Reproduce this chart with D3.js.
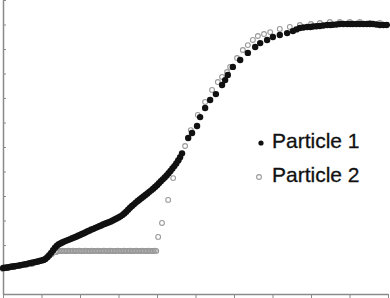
<!DOCTYPE html>
<html>
<head>
<meta charset="utf-8">
<script src="https://cdn.jsdelivr.net/npm/d3@7"></script>
<style>
  body { margin: 0; background: #fff; }
  svg { display: block; }
  .axis path, .axis line { stroke: #8a8a8a; }
  .legend text { font-family: "Liberation Sans", Arial, sans-serif; font-size: 21px; fill: #111; stroke: #111; stroke-width: 0.3px; }
</style>
</head>
<body>
<div id="chart"></div>
<script>
// Particle 1 (filled black dots)
var p1x = [0.00, 0.05, 0.10, 0.15, 0.20, 0.25, 0.30, 0.35, 0.40, 0.45,
           0.50, 0.55, 0.60, 0.65, 0.70, 0.75, 0.80, 0.85, 0.90, 0.95,
           1.00, 1.05, 1.10, 1.15, 1.20, 1.25, 1.30, 1.35, 1.40, 1.45,
           1.50, 1.55, 1.60, 1.65, 1.70, 1.75, 1.80, 1.85, 1.90, 1.95,
           2.00, 2.05, 2.10, 2.15, 2.20, 2.25, 2.30, 2.35, 2.40, 2.45,
           2.50, 2.55, 2.60, 2.65, 2.70, 2.75, 2.80, 2.85, 2.90, 2.95,
           3.00, 3.05, 3.10, 3.15, 3.20, 3.25, 3.30, 3.35, 3.40, 3.45,
           3.50, 3.55, 3.60, 3.65, 3.70, 3.75, 3.80, 3.85, 3.90, 3.95,
           4.00, 4.05, 4.10, 4.15, 4.20, 4.25, 4.30, 4.35, 4.40, 4.45,
           4.50, 4.55, 4.60, 4.65,
           4.81, 4.91, 5.04, 5.12, 5.25, 5.38, 5.53, 5.69, 5.77, 5.84,
           5.97, 6.16, 6.36, 6.55, 6.68, 6.86, 7.01, 7.19, 7.38,
           7.53, 7.62, 7.71, 7.80, 7.90, 7.98, 8.05, 8.14, 8.23, 8.32,
           8.42, 8.50, 8.57, 8.66, 8.75, 8.84, 8.94, 9.02, 9.09, 9.18,
           9.27, 9.36, 9.45, 9.53, 9.61, 9.70, 9.79, 9.88, 9.97];
var p1y = [1.06, 1.07, 1.08, 1.09, 1.11, 1.12, 1.13, 1.15, 1.16, 1.18,
           1.19, 1.21, 1.22, 1.24, 1.26, 1.28, 1.29, 1.31, 1.33, 1.35,
           1.37, 1.39, 1.43, 1.50, 1.58, 1.68, 1.79, 1.89, 1.97, 2.03,
           2.07, 2.11, 2.15, 2.18, 2.21, 2.24, 2.28, 2.31, 2.34, 2.38,
           2.41, 2.45, 2.48, 2.52, 2.56, 2.59, 2.63, 2.66, 2.70, 2.73,
           2.77, 2.80, 2.84, 2.87, 2.90, 2.93, 2.96, 3.00, 3.04, 3.08,
           3.12, 3.17, 3.22, 3.29, 3.36, 3.44, 3.52, 3.59, 3.66, 3.73,
           3.80, 3.86, 3.92, 3.98, 4.04, 4.10, 4.17, 4.23, 4.30, 4.37,
           4.44, 4.52, 4.60, 4.68, 4.76, 4.84, 4.93, 5.02, 5.12, 5.22,
           5.33, 5.45, 5.58, 5.74,
           6.37, 6.57, 6.86, 7.22, 7.59, 7.92, 8.16, 8.53, 8.73, 8.94,
           9.27, 9.55, 9.84, 10.08, 10.24, 10.37, 10.49, 10.57, 10.65,
           10.73, 10.80, 10.86, 10.88, 10.90, 10.90, 10.92, 10.93, 10.94, 10.96,
           10.98, 10.98, 10.99, 11.00, 11.02, 11.02, 11.02, 11.02, 11.02, 11.02,
           11.02, 11.02, 11.02, 11.02, 11.02, 11.00, 10.98, 10.98, 10.98];

// Particle 2 (open grey circles)
var p2x = [0.00, 0.13, 0.29, 0.44, 0.60, 0.75, 0.91, 1.06, 1.17, 1.27,
           1.38, 1.42, 1.46, 1.50, 1.54, 1.58, 1.62, 1.66, 1.70, 1.74,
           1.78, 1.82, 1.86, 1.90, 1.94, 1.98, 2.02, 2.06, 2.10, 2.14,
           2.18, 2.22, 2.26, 2.30, 2.34, 2.38, 2.42, 2.46, 2.50, 2.54,
           2.58, 2.62, 2.66, 2.70, 2.74, 2.78, 2.82, 2.86, 2.90, 2.94,
           2.98, 3.02, 3.06, 3.10, 3.14, 3.18, 3.22, 3.26, 3.30, 3.34,
           3.38, 3.42, 3.46, 3.50, 3.54, 3.58, 3.62, 3.66, 3.70, 3.74,
           3.78, 3.82, 3.86, 3.90, 3.94, 3.98,
           4.03, 4.13, 4.29, 4.42, 4.57, 4.73, 4.88,
           5.06, 5.25, 5.43, 5.58, 5.69, 5.82, 5.90, 6.08, 6.23, 6.36,
           6.49, 6.62, 6.78, 6.94, 7.19, 7.45, 7.71, 8.00, 8.23, 8.49,
           8.75, 9.01, 9.27, 9.53, 9.79];
var p2y = [1.02, 1.06, 1.10, 1.14, 1.18, 1.22, 1.31, 1.39, 1.51, 1.63,
           1.71, 1.74, 1.76, 1.75, 1.77, 1.76, 1.76, 1.75, 1.77, 1.76,
           1.76, 1.77, 1.75, 1.76, 1.76, 1.77, 1.76, 1.75, 1.76, 1.77,
           1.76, 1.76, 1.75, 1.77, 1.76, 1.76, 1.76, 1.77, 1.75, 1.76,
           1.76, 1.77, 1.76, 1.76, 1.75, 1.77, 1.76, 1.76, 1.75, 1.76,
           1.77, 1.76, 1.76, 1.75, 1.77, 1.76, 1.76, 1.76, 1.77, 1.75,
           1.76, 1.76, 1.77, 1.76, 1.75, 1.76, 1.77, 1.76, 1.76, 1.75,
           1.77, 1.76, 1.76, 1.76, 1.77, 1.76,
           2.33, 2.90, 3.84, 4.73, 5.47, 6.04, 6.69,
           7.31, 7.84, 8.33, 8.65, 8.86, 9.06, 9.27, 9.63, 9.96, 10.16,
           10.37, 10.53, 10.61, 10.69, 10.82, 10.90, 10.98, 11.02, 11.06, 11.10,
           11.10, 11.10, 11.10, 11.06, 11.06];

var xTicks = [0, 1, 2, 3, 4, 5, 6, 7, 8, 9, 10];
var yTicks = [0, 1, 2, 3, 4, 5, 6, 7, 8, 9, 10, 11, 12];
var legendLabels = ["Particle 1", "Particle 2"];

var width = 390, height = 298;

var svg = d3.select("#chart")
    .append("svg")
    .attr("width", width)
    .attr("height", height);

var xScale = d3.scaleLinear().domain([0, 10]).range([3, 388]);
var yScale = d3.scaleLinear().domain([0, 12]).range([294, 0]);

var xAxis = d3.axisBottom(xScale).tickValues(xTicks).tickFormat("").tickSize(4).tickSizeOuter(0);
var yAxis = d3.axisLeft(yScale).tickValues(yTicks).tickFormat("").tickSize(-3).tickSizeOuter(0);

svg.append("g")
    .attr("class", "axis")
    .attr("transform", "translate(0," + yScale(0) + ")")
    .call(xAxis)
    .select(".domain").attr("stroke-width", 1.5);

svg.append("g")
    .attr("class", "axis")
    .attr("transform", "translate(" + xScale(0) + ",0)")
    .call(yAxis)
    .select(".domain").attr("stroke-width", 1.5);

// particle 2 under particle 1
svg.append("g")
    .selectAll("circle")
    .data(p2x)
    .enter()
    .append("circle")
    .attr("cx", function(d) { return xScale(d); })
    .attr("cy", function(d, i) { return yScale(p2y[i]); })
    .attr("r", 2.4)
    .attr("fill", "none")
    .attr("stroke", "#999")
    .attr("stroke-width", 1.1);

svg.append("g")
    .selectAll("circle")
    .data(p1x)
    .enter()
    .append("circle")
    .attr("cx", function(d) { return xScale(d); })
    .attr("cy", function(d, i) { return yScale(p1y[i]); })
    .attr("r", 3.2)
    .attr("fill", "#111");

var legend = svg.append("g").attr("class", "legend");
legend.append("circle")
    .attr("cx", 261).attr("cy", 143).attr("r", 2.6)
    .attr("fill", "#111");
legend.append("circle")
    .attr("cx", 259).attr("cy", 177).attr("r", 2.4)
    .attr("fill", "none").attr("stroke", "#999").attr("stroke-width", 1.1);
legend.selectAll("text")
    .data(legendLabels)
    .enter()
    .append("text")
    .attr("x", 272)
    .attr("y", function(d, i) { return 148 + i * 34; })
    .text(function(d) { return d; });
</script>
</body>
</html>
